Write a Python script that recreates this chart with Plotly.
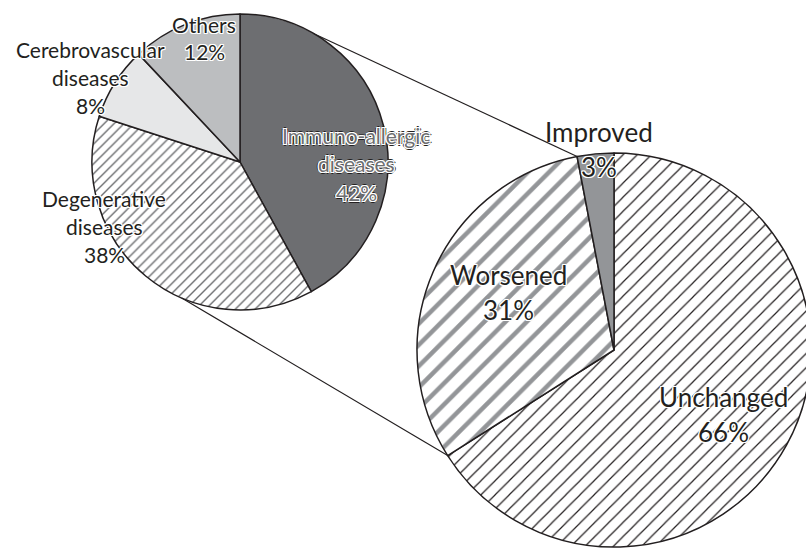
import math
import plotly.graph_objects as go

# ---- data ----
disease_labels = ["Immuno-allergic diseases", "Degenerative diseases", "Cerebrovascular diseases", "Others"]
disease_values = [42, 38, 8, 12]
outcome_labels = ["Unchanged", "Worsened", "Improved"]
outcome_values = [66, 31, 3]

# ---- layout constants (pixels) ----
W, H = 820, 550
SMALL_C, SMALL_R = (240, 162), 148
BIG_C, BIG_R = (614, 350), 197
EDGE = "#231f20"


def px(x):
    return x / W


def py(y):
    return 1 - y / H


def on_circle(c, r, deg):
    a = math.radians(deg)
    return c[0] + r * math.sin(a), c[1] - r * math.cos(a)


fig = go.Figure()

fig.add_trace(go.Pie(
    labels=disease_labels, values=disease_values, sort=False, direction="clockwise",
    textinfo="none", hoverinfo="label+percent", showlegend=False,
    domain=dict(x=[px(SMALL_C[0] - SMALL_R), px(SMALL_C[0] + SMALL_R)],
                y=[py(SMALL_C[1] + SMALL_R), py(SMALL_C[1] - SMALL_R)]),
    marker=dict(colors=["#6d6e71", "#ffffff", "#e6e7e8", "#bcbec0"],
                line=dict(color=EDGE, width=1.5),
                pattern=dict(shape=["", "/", "", ""], fgcolor="#6d6e71",
                             size=7, solidity=0.2, fillmode="replace")),
))

fig.add_trace(go.Pie(
    labels=outcome_labels, values=outcome_values, sort=False, direction="clockwise",
    textinfo="none", hoverinfo="label+percent", showlegend=False,
    domain=dict(x=[px(BIG_C[0] - BIG_R), px(BIG_C[0] + BIG_R)],
                y=[py(BIG_C[1] + BIG_R), py(BIG_C[1] - BIG_R)]),
    marker=dict(colors=["#ffffff", "#ffffff", "#939598"],
                line=dict(color=EDGE, width=1.5),
                pattern=dict(shape=["/", "/", ""], fgcolor=[EDGE, "#939598", "#939598"],
                             size=[10, 15, 10], solidity=[0.12, 0.3, 0.1], fillmode="replace")),
))

# connector lines: from small pie edge to big-pie slice boundaries
tot = sum(outcome_values)
ang_unch_end = 360 * outcome_values[0] / tot
ang_impr_start = 360 * (outcome_values[0] + outcome_values[1]) / tot
for a_small, a_big in [(29.5, ang_impr_start), (203.2, ang_unch_end)]:
    x0, y0 = on_circle(SMALL_C, SMALL_R, a_small)
    x1, y1 = on_circle(BIG_C, BIG_R, a_big)
    fig.add_shape(type="line", xref="paper", yref="paper",
                  x0=px(x0), y0=py(y0), x1=px(x1), y1=py(y1),
                  line=dict(color=EDGE, width=1.2))

HALO = "-1px -1px 0 #fff, 1px -1px 0 #fff, -1px 1px 0 #fff, 1px 1px 0 #fff, 0 1px 0 #fff, 0 -1px 0 #fff, 1px 0 0 #fff, -1px 0 0 #fff"
HALO_DARK = HALO + ", 2px 0 0 #231f20, -2px 0 0 #231f20, 0 2px 0 #231f20, 0 -2px 0 #231f20"


def label(lines, cx, y0, step, size, color, shadow=HALO):
    for i, t in enumerate(lines):
        fig.add_annotation(text=t, xref="paper", yref="paper", x=px(cx), y=py(y0 + i * step),
                           xanchor="center", yanchor="middle", showarrow=False,
                           font=dict(family="Lato", size=size, color=color, shadow=shadow))


S, L = 21, 26
label(["Others", "12%"], 204, 24, 28, S, EDGE)
label(["Cerebrovascular", "diseases", "8%"], 90, 49, 28, S, EDGE)
label(["Immuno-allergic", "diseases", "42%"], 356, 135, 29, S, "#6d6e71", shadow=HALO_DARK)
label(["Degenerative", "diseases", "38%"], 104, 198, 28, S, EDGE)
label(["Improved"], 599, 132, 35, L, EDGE, shadow="none")
label(["3%"], 599, 167, 35, L, EDGE)
label(["Worsened", "31%"], 508, 275, 35, L, EDGE)
label(["Unchanged", "66%"], 723, 397, 35, L, EDGE)

fig.update_layout(width=W, height=H, margin=dict(l=0, r=0, t=0, b=0),
                  paper_bgcolor="white", plot_bgcolor="white")

fig.write_html("out.html",
               post_script="document.documentElement.style.overflow='hidden';document.body.style.overflow='hidden';document.body.style.margin='0';")
